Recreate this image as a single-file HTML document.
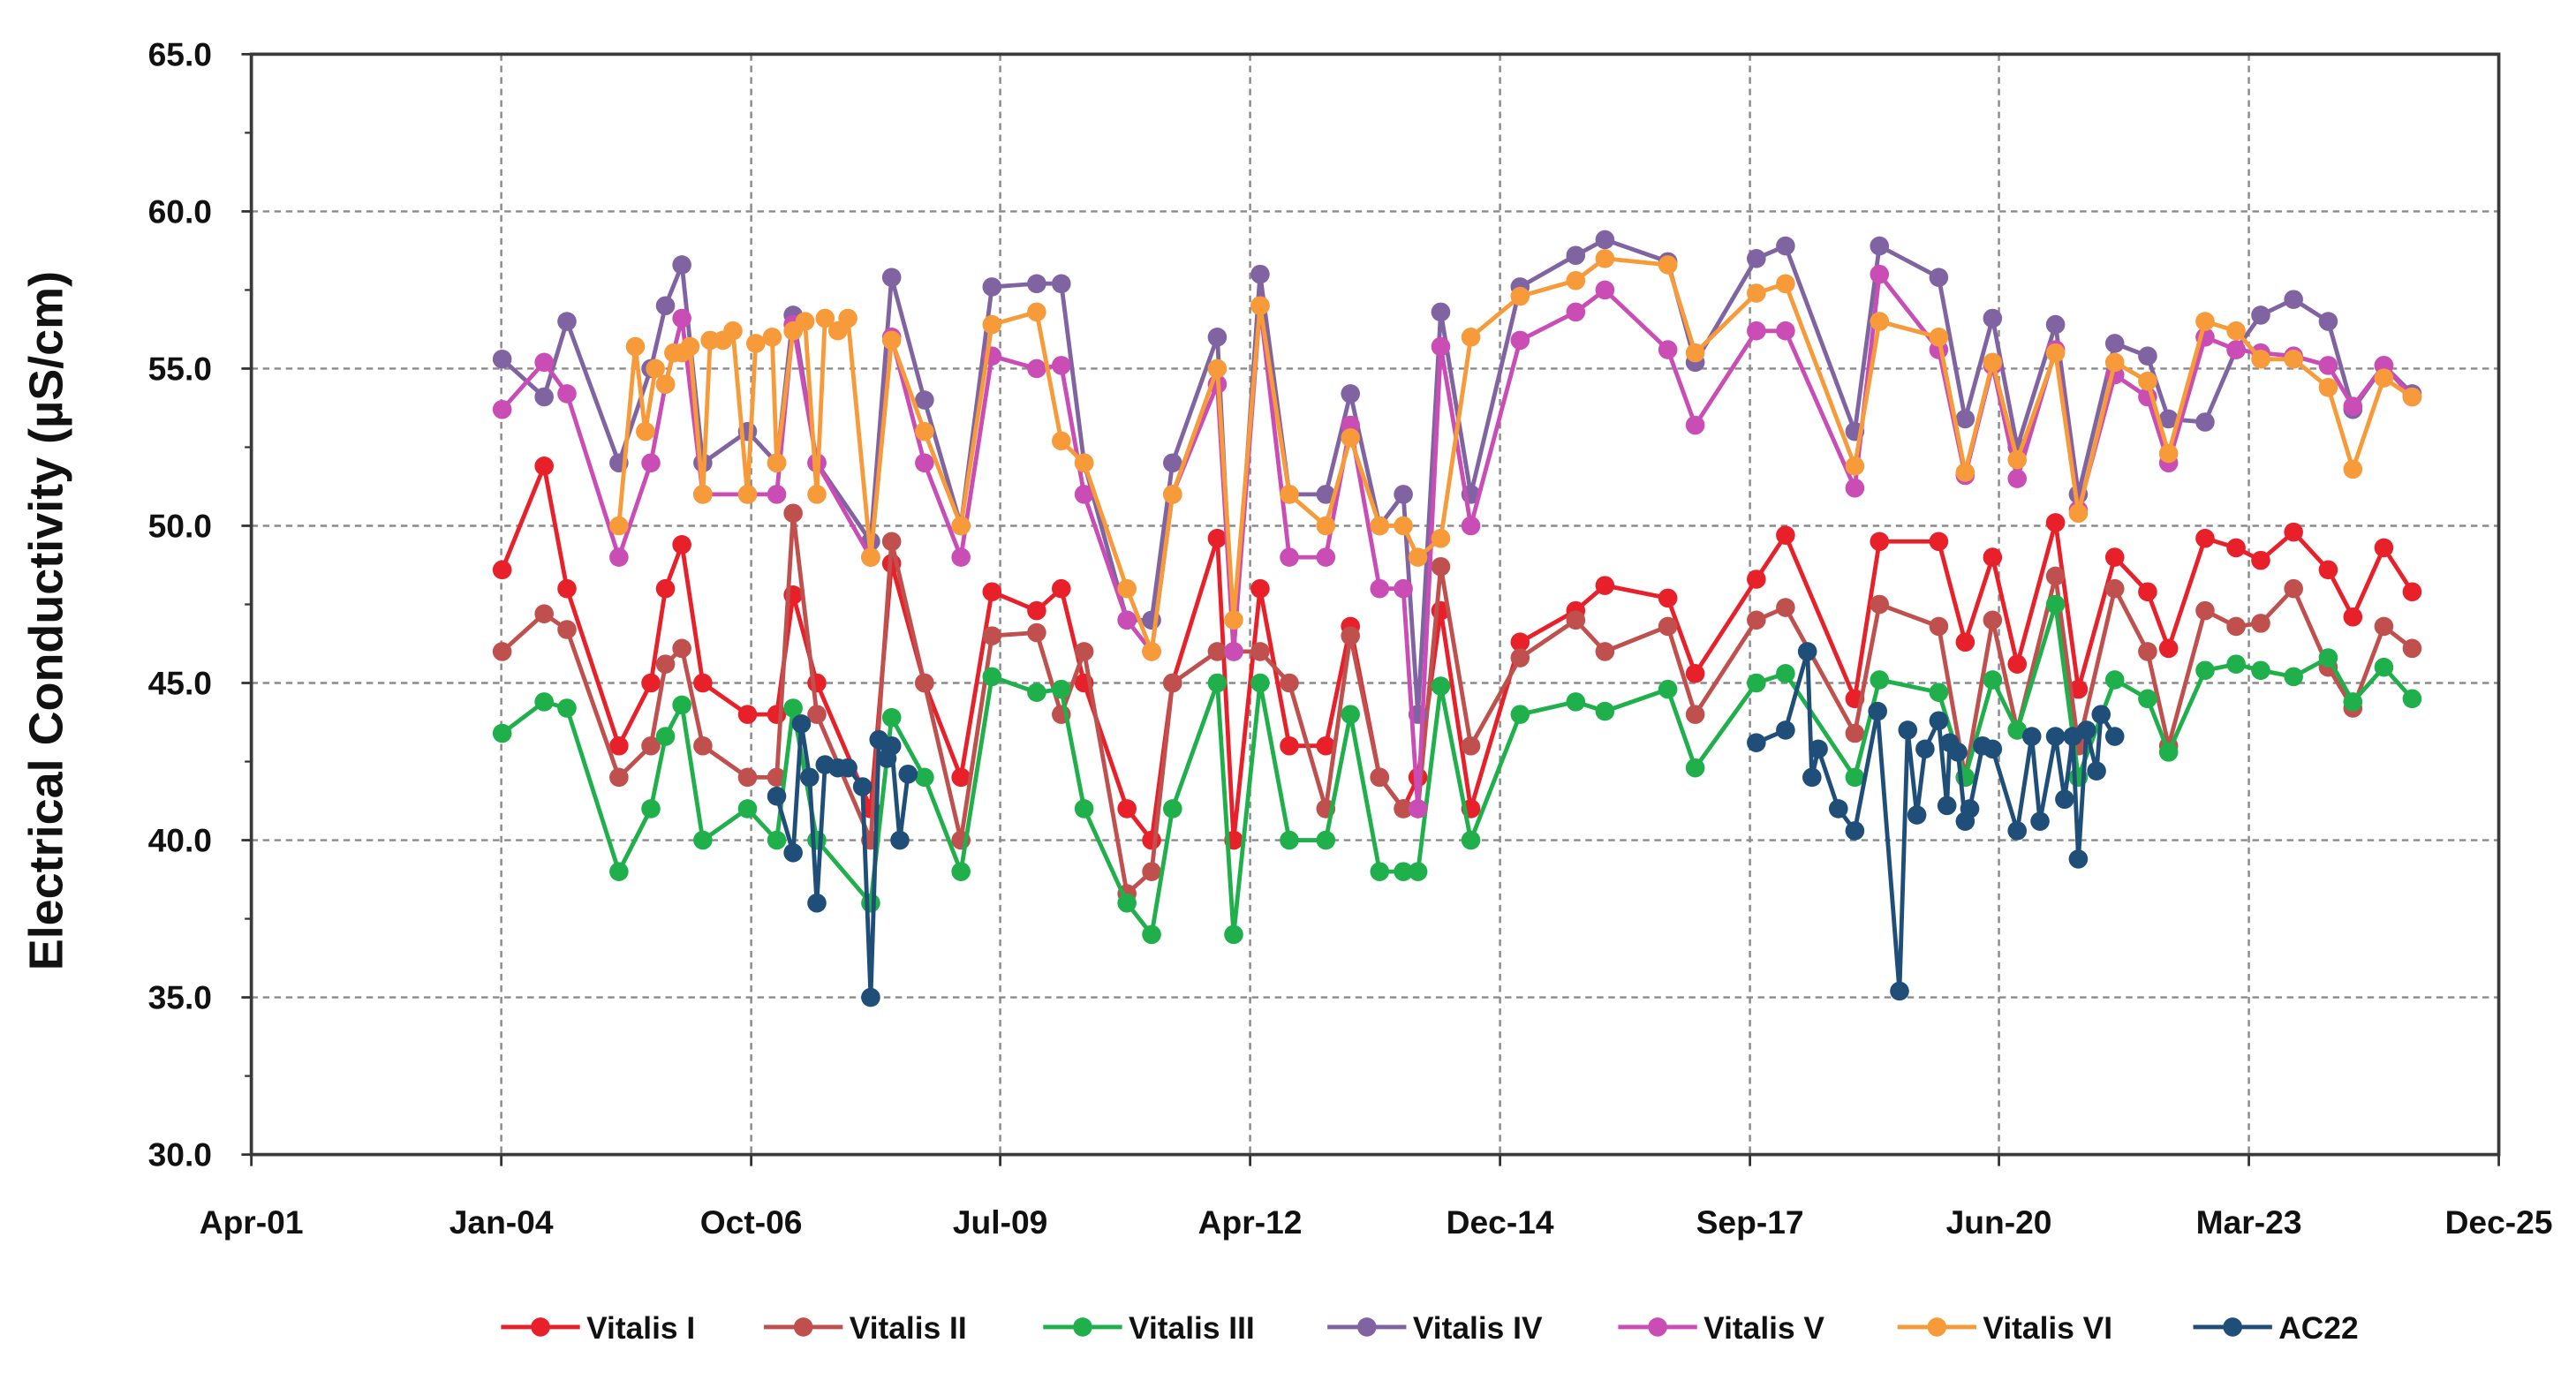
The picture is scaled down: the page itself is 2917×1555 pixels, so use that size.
<!DOCTYPE html>
<html><head><meta charset="utf-8"><style>
html,body{margin:0;padding:0;background:#fff;}
svg{display:block;}
text{font-family:"Liberation Sans",sans-serif;font-weight:bold;fill:#111;}
</style></head><body>
<svg id="chart" width="2917" height="1555" viewBox="0 0 1568 836" preserveAspectRatio="none" xmlns="http://www.w3.org/2000/svg">
<rect x="0" y="0" width="1568" height="836" fill="#fff"/>
<g id="grid"></g>
<g id="axes"></g>
<g id="series"></g>
<text x="38" y="378" font-size="29" text-anchor="middle" transform="rotate(-90 38 378)">Electrical Conductivity (µS/cm)</text>
<g id="legend"></g>
</svg>
<script>
const mainDates=[2004.0,2004.46,2004.71,2005.28,2005.63,2005.79,2005.97,2006.20,2006.69,2007.01,2007.19,2007.45,2008.04,2008.27,2008.63,2009.03,2009.37,2009.86,2010.13,2010.38,2010.85,2011.12,2011.35,2011.84,2012.02,2012.31,2012.63,2013.03,2013.30,2013.62,2013.88,2014.04,2014.29,2014.62,2015.16,2015.77,2016.09,2016.78,2017.08,2017.75,2018.07,2018.83,2019.10,2019.75,2020.04,2020.34,2020.61,2021.03,2021.28,2021.68,2022.04,2022.27,2022.67,2023.01,2023.28,2023.64,2024.02,2024.29,2024.63,2024.94];
const vitalisI=[48.6,51.9,48.0,43.0,45.0,48.0,49.4,45.0,44.0,44.0,47.8,45.0,41.0,48.8,45.0,42.0,47.9,47.3,48.0,45.0,41.0,40.0,45.0,49.6,40.0,48.0,43.0,43.0,46.8,42.0,41.0,42.0,47.3,41.0,46.3,47.3,48.1,47.7,45.3,48.3,49.7,44.5,49.5,49.5,46.3,49.0,45.6,50.1,44.8,49.0,47.9,46.1,49.6,49.3,48.9,49.8,48.6,47.1,49.3,47.9];
const vitalisII=[46.0,47.2,46.7,42.0,43.0,45.6,46.1,43.0,42.0,42.0,50.4,44.0,40.0,49.5,45.0,40.0,46.5,46.6,44.0,46.0,38.3,39.0,45.0,46.0,46.0,46.0,45.0,41.0,46.5,42.0,41.0,41.0,48.7,43.0,45.8,47.0,46.0,46.8,44.0,47.0,47.4,43.4,47.5,46.8,42.0,47.0,43.5,48.4,43.0,48.0,46.0,43.0,47.3,46.8,46.9,48.0,45.5,44.2,46.8,46.1];
const vitalisIII=[43.4,44.4,44.2,39.0,41.0,43.3,44.3,40.0,41.0,40.0,44.2,40.0,38.0,43.9,42.0,39.0,45.2,44.7,44.8,41.0,38.0,37.0,41.0,45.0,37.0,45.0,40.0,40.0,44.0,39.0,39.0,39.0,44.9,40.0,44.0,44.4,44.1,44.8,42.3,45.0,45.3,42.0,45.1,44.7,42.0,45.1,43.5,47.5,42.0,45.1,44.5,42.8,45.4,45.6,45.4,45.2,45.8,44.4,45.5,44.5];
const vitalisIV=[55.3,54.1,56.5,52.0,55.0,57.0,58.3,52.0,53.0,52.0,56.7,52.0,49.5,57.9,54.0,50.0,57.6,57.7,57.7,52.0,47.0,47.0,52.0,56.0,46.0,58.0,51.0,51.0,54.2,50.0,51.0,44.0,56.8,51.0,57.6,58.6,59.1,58.4,55.2,58.5,58.9,53.0,58.9,57.9,53.4,56.6,52.5,56.4,51.0,55.8,55.4,53.4,53.3,55.6,56.7,57.2,56.5,53.7,55.1,54.2];
const vitalisV=[53.7,55.2,54.2,49.0,52.0,54.5,56.6,51.0,51.0,51.0,56.4,52.0,49.0,56.0,52.0,49.0,55.4,55.0,55.1,51.0,47.0,46.0,51.0,54.5,46.0,57.0,49.0,49.0,53.2,48.0,48.0,41.0,55.7,50.0,55.9,56.8,57.5,55.6,53.2,56.2,56.2,51.2,58.0,55.6,51.6,55.1,51.5,55.6,50.5,54.8,54.1,52.0,56.0,55.6,55.5,55.4,55.1,53.8,55.1,54.1];
const vitalisVIEarlyDates=[2005.28,2005.46,2005.57,2005.68,2005.79,2005.88,2005.97,2006.06,2006.20,2006.28,2006.42,2006.53,2006.69,2006.78,2006.96,2007.01,2007.19,2007.32,2007.45,2007.54,2007.68,2007.79,2008.04];
const vitalisVI=[50.0,55.7,53.0,55.0,54.5,55.5,55.5,55.7,51.0,55.9,55.9,56.2,51.0,55.8,56.0,52.0,56.2,56.5,51.0,56.6,56.2,56.6,49.0,55.9,53.0,50.0,56.4,56.8,52.7,52.0,48.0,46.0,51.0,55.0,47.0,57.0,51.0,50.0,52.8,50.0,50.0,49.0,49.6,56.0,57.3,57.8,58.5,58.3,55.5,57.4,57.7,51.9,56.5,56.0,51.7,55.2,52.1,55.5,50.4,55.2,54.6,52.3,56.5,56.2,55.3,55.3,54.4,51.8,54.7,54.1];
const ac22Dates=[2007.01,2007.19,2007.28,2007.37,2007.45,2007.54,2007.68,2007.79,2007.95,2008.04,2008.13,2008.22,2008.27,2008.36,2008.45,null,2017.75,2018.07,2018.31,2018.36,2018.43,2018.65,2018.83,2019.08,2019.32,2019.41,2019.51,2019.60,2019.75,2019.84,2019.87,2019.96,2020.04,2020.09,2020.23,2020.34,2020.61,2020.77,2020.86,2021.03,2021.13,2021.22,2021.28,2021.37,2021.48,2021.53,2021.68];
const ac22=[41.4,39.6,43.7,42.0,38.0,42.4,42.3,42.3,41.7,35.0,43.2,42.6,43.0,40.0,42.1,null,43.1,43.5,46.0,42.0,42.9,41.0,40.3,44.1,35.2,43.5,40.8,42.9,43.8,41.1,43.1,42.8,40.6,41.0,43.0,42.9,40.3,43.3,40.6,43.3,41.3,43.3,39.4,43.5,42.2,44.0,43.3];
const xTickYears=[2001.25,2003.99,2006.73,2009.46,2012.20,2014.94,2017.68,2020.41,2023.15,2025.89];
const xTickLabels=["Apr-01","Jan-04","Oct-06","Jul-09","Apr-12","Dec-14","Sep-17","Jun-20","Mar-23","Dec-25"];
const yTicks=[30,35,40,45,50,55,60,65];
const seriesNames=["Vitalis I","Vitalis II","Vitalis III","Vitalis IV","Vitalis V","Vitalis VI","AC22"];
const seriesColors=["#e8202a","#c0504d","#1fb04c","#8064a2","#c94db5","#f79a3a","#1f4e79"];

const L=153,R=1521,T=33,B=703;
const X0=2001.25,X1=2025.89,Y0=30,Y1=65;
const xs=v=>L+(v-X0)/(X1-X0)*(R-L);
const ys=v=>B-(v-Y0)/(Y1-Y0)*(B-T);
const NS="http://www.w3.org/2000/svg";
function mk(tag,attrs,parent){const e=document.createElementNS(NS,tag);for(const k in attrs)e.setAttribute(k,attrs[k]);parent.appendChild(e);return e;}
const grid=document.getElementById('grid'),axes=document.getElementById('axes'),ser=document.getElementById('series'),leg=document.getElementById('legend');

yTicks.forEach((v,i)=>{
  if(v>Y0&&v<Y1){const g=mk('line',{x1:L,x2:R,y1:ys(v),y2:ys(v),stroke:'#8a8a8a','stroke-width':1.3,'stroke-dasharray':'4 3'},grid);
  
  }
  const t=mk('text',{x:L-24,y:ys(v)+7,'font-size':20,'text-anchor':'end'},axes);t.textContent=v.toFixed(1);
  
  
  mk('line',{x1:L-6,x2:L,y1:ys(v),y2:ys(v),stroke:'#333','stroke-width':1.5},axes);
  if(i<yTicks.length-1){mk('line',{x1:L-4,x2:L,y1:ys(v+2.5),y2:ys(v+2.5),stroke:'#333','stroke-width':1.2},axes);}
});
xTickYears.forEach((v,i)=>{
  if(i>0&&i<xTickYears.length-1){const g=mk('line',{x1:xs(v),x2:xs(v),y1:T,y2:B,stroke:'#8a8a8a','stroke-width':1.3,'stroke-dasharray':'4 3'},grid);
  
  }
  mk('line',{x1:xs(v),x2:xs(v),y1:B,y2:B+7,stroke:'#333','stroke-width':1.5},axes);
  const t=mk('text',{x:xs(v),y:B+48,'font-size':20,'text-anchor':'middle'},axes);t.textContent=xTickLabels[i];
  
  
});
const frame=mk('rect',{x:L,y:T,width:R-L,height:B-T,fill:'none',stroke:'#3a3a3a','stroke-width':2},axes);



const orangeDates=vitalisVIEarlyDates.concat(mainDates.slice(13));
const allSeries=[[mainDates,vitalisI],[mainDates,vitalisII],[mainDates,vitalisIII],[mainDates,vitalisIV],[mainDates,vitalisV],[orangeDates,vitalisVI],[ac22Dates,ac22]];
allSeries.forEach((s,si)=>{
  const [d,v]=s;const col=seriesColors[si];
  const g=mk('g',{},ser);
  
  
  let path='',pen=false;
  for(let i=0;i<v.length;i++){
    if(v[i]===null||d[i]===null){pen=false;continue;}
    path+=(pen?'L':'M')+xs(d[i]).toFixed(1)+' '+ys(v[i]).toFixed(1)+' ';pen=true;
  }
  const ln=mk('path',{d:path,fill:'none',stroke:col,'stroke-width':2.6,'stroke-linejoin':'round'},g);
  
  
  for(let i=0;i<v.length;i++){
    if(v[i]===null||d[i]===null)continue;
    const c=mk('circle',{cx:xs(d[i]),cy:ys(v[i]),r:5.8,fill:col},g);
    
    
  }
});

const legX=[305,465,635,808,985,1155,1335];
seriesNames.forEach((n,i)=>{
  const g=mk('g',{},leg);
  
  
  mk('line',{x1:legX[i],x2:legX[i]+48,y1:808,y2:808,stroke:seriesColors[i],'stroke-width':2.6},g);
  mk('circle',{cx:legX[i]+24,cy:808,r:5.8,fill:seriesColors[i]},g);
  const t=mk('text',{x:legX[i]+52,y:815,'font-size':19},g);t.textContent=n;
});
</script>
</body></html>
